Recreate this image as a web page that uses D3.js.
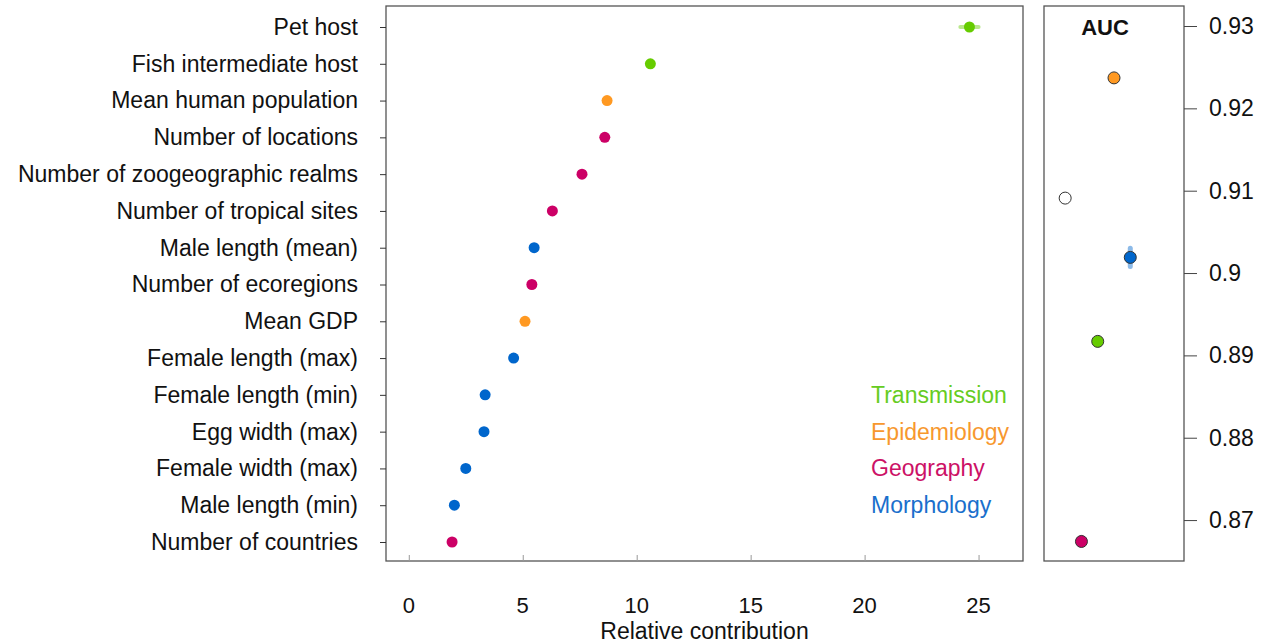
<!DOCTYPE html>
<html>
<head>
<meta charset="utf-8">
<script src="https://cdn.jsdelivr.net/npm/d3@7"></script>
<style>
  body { margin: 0; background: #fff; }
  svg text { font-family: "Liberation Sans", Arial, sans-serif; }
</style>
</head>
<body>
<div id="chart"></div>
<script>
// variables, top to bottom
const variables = ["Pet host", "Fish intermediate host", "Mean human population", "Number of locations",
  "Number of zoogeographic realms", "Number of tropical sites", "Male length (mean)", "Number of ecoregions",
  "Mean GDP", "Female length (max)", "Female length (min)", "Egg width (max)", "Female width (max)",
  "Male length (min)", "Number of countries"];
const contribution = [24.6, 10.6, 8.7, 8.6, 7.6, 6.3, 5.5, 5.4, 5.1, 4.6, 3.35, 3.3, 2.5, 2.0, 1.9];
const contribLow  = [24.2, 10.5, 8.6, 8.5, 7.5, 6.2, 5.4, 5.3, 5.0, 4.5, 3.25, 3.2, 2.4, 1.9, 1.8];
const contribHigh = [25.0, 10.7, 8.8, 8.7, 7.7, 6.4, 5.6, 5.5, 5.2, 4.7, 3.45, 3.4, 2.6, 2.1, 2.0];
const varGroup = ["Transmission", "Transmission", "Epidemiology", "Geography", "Geography", "Geography",
  "Morphology", "Geography", "Epidemiology", "Morphology", "Morphology", "Morphology", "Morphology",
  "Morphology", "Geography"];

const groups = ["Transmission", "Epidemiology", "Geography", "Morphology"];
const groupColors = ["#66cc00", "#ff9922", "#cc0066", "#0066cc"];
const legendColors = ["#66cc22", "#f7982e", "#cc1166", "#1a6fcc"];

// AUC panel: full model first, then model without each group
const aucModels = ["All", "Geography", "Transmission", "Epidemiology", "Morphology"];
const aucValue = [0.9091, 0.8674, 0.8917, 0.9237, 0.9019];
const aucLow   = [0.9091, 0.8670, 0.8915, 0.9235, 0.9008];
const aucHigh  = [0.9091, 0.8679, 0.8919, 0.9239, 0.9030];
const aucTicks = [0.87, 0.88, 0.89, 0.9, 0.91, 0.92, 0.93];
const xTicks = [0, 5, 10, 15, 20, 25];

const W = 1266, H = 644;
const FS = 23;
const colorOf = d3.scaleOrdinal().domain(groups).range(groupColors);
const fillOf = m => m === "All" ? "#ffffff" : colorOf(m);

const svg = d3.select("#chart").append("svg")
  .attr("width", W).attr("height", H);

// left panel
const L = { left: 386, right: 1023, top: 6, bottom: 561 };
const x = d3.scaleLinear().domain([-1, 26.95]).range([L.left, L.right]);
const y = d3.scalePoint().domain(variables).range([27, 542]);

svg.append("rect")
  .attr("x", L.left).attr("y", L.top)
  .attr("width", L.right - L.left).attr("height", L.bottom - L.top)
  .attr("fill", "none").attr("stroke", "#555").attr("stroke-width", 1.3);

// x axis: small grey ticks pointing inside, labels well below
const xAxis = svg.append("g").attr("transform", `translate(0,${L.bottom})`)
  .call(d3.axisTop(x).tickValues(xTicks).tickSize(6).tickFormat(""));
xAxis.select(".domain").remove();
xAxis.selectAll("line").attr("stroke", "#999");
svg.append("g").selectAll("text").data(xTicks).join("text")
  .attr("x", d => x(d)).attr("y", 613)
  .attr("text-anchor", "middle").attr("font-size", 22).attr("fill", "#111")
  .text(d => d);
svg.append("text")
  .attr("x", (L.left + L.right) / 2).attr("y", 639)
  .attr("text-anchor", "middle").attr("font-size", FS).attr("fill", "#111")
  .text("Relative contribution");

// y axis: labels on the left
const yAxis = svg.append("g").attr("transform", `translate(${L.left},0)`)
  .call(d3.axisLeft(y).tickSize(6).tickPadding(22));
yAxis.select(".domain").remove();
yAxis.selectAll("line").attr("stroke", "#333");
yAxis.selectAll("text").attr("font-size", FS).attr("fill", "#111")
  .attr("font-family", "Liberation Sans, Arial, sans-serif");

// interval bars and points
svg.append("g").selectAll("line").data(variables).join("line")
  .attr("x1", (d, i) => x(contribLow[i])).attr("x2", (d, i) => x(contribHigh[i]))
  .attr("y1", d => y(d)).attr("y2", d => y(d))
  .attr("stroke", (d, i) => colorOf(varGroup[i])).attr("stroke-opacity", 0.45)
  .attr("stroke-width", 4).attr("stroke-linecap", "round");
svg.append("g").selectAll("circle").data(variables).join("circle")
  .attr("cx", (d, i) => x(contribution[i])).attr("cy", d => y(d))
  .attr("r", 5.5).attr("fill", (d, i) => colorOf(varGroup[i]));

// legend
svg.append("g").selectAll("text").data(groups).join("text")
  .attr("x", 871).attr("y", (d, i) => 403 + i * 36.5)
  .attr("font-size", FS).attr("fill", (d, i) => legendColors[i])
  .text(d => d);

// right panel (AUC)
const R = { left: 1044, right: 1184, top: 6, bottom: 561 };
const xa = d3.scaleLinear().domain([-0.3, 8.3]).range([R.left, R.right]);
const ya = d3.scaleLinear().domain([0.86503, 0.93243]).range([R.bottom, R.top]);

svg.append("rect")
  .attr("x", R.left).attr("y", R.top)
  .attr("width", R.right - R.left).attr("height", R.bottom - R.top)
  .attr("fill", "none").attr("stroke", "#555").attr("stroke-width", 1.3);

const aAxis = svg.append("g").attr("transform", `translate(${R.right},0)`)
  .call(d3.axisRight(ya).tickValues(aucTicks).tickSize(13).tickPadding(12)
    .tickFormat(d => String(+d.toFixed(2))));
aAxis.select(".domain").remove();
aAxis.selectAll("line").attr("stroke", "#444");
aAxis.selectAll("text").attr("font-size", FS).attr("fill", "#111")
  .attr("font-family", "Liberation Sans, Arial, sans-serif");

svg.append("text")
  .attr("x", 1105).attr("y", 35)
  .attr("text-anchor", "middle").attr("font-size", 22).attr("font-weight", "bold")
  .attr("fill", "#111").text("AUC");

svg.append("g").selectAll("line").data(aucModels).join("line")
  .attr("x1", (d, i) => xa(i + 1)).attr("x2", (d, i) => xa(i + 1))
  .attr("y1", (d, i) => ya(aucLow[i])).attr("y2", (d, i) => ya(aucHigh[i]))
  .attr("stroke", d => d === "All" ? "none" : colorOf(d)).attr("stroke-opacity", 0.45)
  .attr("stroke-width", 5).attr("stroke-linecap", "round");
svg.append("g").selectAll("circle").data(aucModels).join("circle")
  .attr("cx", (d, i) => xa(i + 1)).attr("cy", (d, i) => ya(aucValue[i]))
  .attr("r", 6).attr("fill", d => fillOf(d))
  .attr("stroke", "#333").attr("stroke-width", 1);
</script>
</body>
</html>
